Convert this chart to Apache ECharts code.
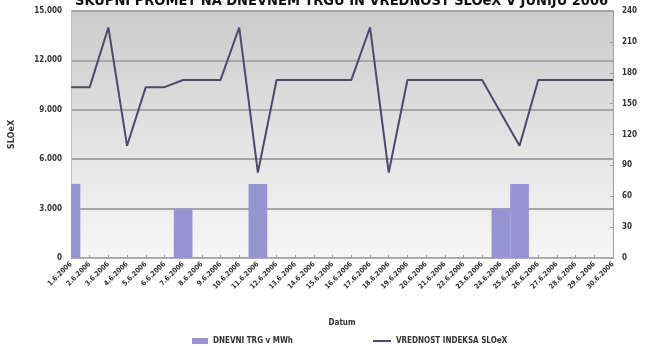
<!DOCTYPE html>
<html>
<head>
<meta charset="utf-8">
<script src="https://cdn.jsdelivr.net/npm/echarts@6/dist/echarts.min.js"></script>
<style>
html,body{margin:0;padding:0;background:#fff;}
#c{width:647px;height:346px;}
</style>
</head>
<body>
<div id="c"></div>
<script>
const categories = ['1.6.2006','2.6.2006','3.6.2006','4.6.2006','5.6.2006','6.6.2006','7.6.2006','8.6.2006','9.6.2006','10.6.2006',
  '11.6.2006','12.6.2006','13.6.2006','14.6.2006','15.6.2006','16.6.2006','17.6.2006','18.6.2006','19.6.2006','20.6.2006',
  '21.6.2006','22.6.2006','23.6.2006','24.6.2006','25.6.2006','26.6.2006','27.6.2006','28.6.2006','29.6.2006','30.6.2006'];
const volumeMWh = [4500,0,0,0,0,0,3000,0,0,0,
  4500,0,0,0,0,0,0,0,0,0,
  0,0,0,3000,4500,0,0,0,0,0];
const indexValues = [166,166,224,109,166,166,173,173,173,224,
  83,173,173,173,173,173,224,83,173,173,
  173,173,173,141,109,173,173,173,173,173];
const leftTicks = [0,3000,6000,9000,12000,15000];
const rightTicks = [0,30,60,90,120,150,180,210,240];

const FONT = "'Liberation Sans Narrow','DejaVu Sans Condensed',sans-serif";
function fmtThousands(v){
  if (v === 0) return '0';
  const s = String(Math.round(v));
  return s.replace(/\B(?=(\d{3})+(?!\d))/g, '.');
}
const barData = volumeMWh.map(function(v,i){return [i,v];});
function renderBar(params, api){
  const i = api.value(0), v = api.value(1);
  if (!v) return null;
  const p0 = api.coord([i,0]);
  const p1 = api.coord([i,v]);
  const w = Math.abs(api.coord([1,0])[0] - api.coord([0,0])[0]);
  const cs = params.coordSys;
  const shape = echarts.graphic.clipRectByRect(
    {x:p0[0]-w/2, y:p1[1], width:w, height:p0[1]-p1[1]},
    {x:cs.x, y:cs.y, width:cs.width, height:cs.height});
  if (!shape) return null;
  return {type:'rect', shape:shape, style:{fill:'#9893d2'}};
}
const chart = echarts.init(document.getElementById('c'), null, {renderer:'canvas'});
chart.setOption({
  animation:false,
  backgroundColor:'#ffffff',
  title:{
    text:'SKUPNI PROMET NA DNEVNEM TRGU IN VREDNOST SLOeX V JUNIJU 2006',
    left:70, top:-11,
    textStyle:{fontFamily:FONT,fontSize:14.5,fontWeight:'bold',color:'#111'}
  },
  legend:[{
    data:[{name:'DNEVNI TRG v MWh',icon:'rect'}],
    left:187, top:332, itemWidth:16, itemHeight:6, itemGap:4,
    textStyle:{fontFamily:FONT,fontSize:8,fontWeight:'bold',color:'#333'}
  },{
    data:[{name:'VREDNOST INDEKSA SLOeX',icon:'rect'}],
    left:368, top:332, itemWidth:18, itemHeight:2,
    textStyle:{fontFamily:FONT,fontSize:8,fontWeight:'bold',color:'#333'}
  }],
  grid:{left:71,right:34,top:11,bottom:88,show:true,borderWidth:0,containLabel:false,outerBoundsMode:'none',
    backgroundColor:new echarts.graphic.LinearGradient(0,0,0,1,[
      {offset:0,color:'#cbcbcb'},{offset:0.5,color:'#e2e2e2'},{offset:1,color:'#f6f6f6'}])},
  xAxis:{
    type:'category', data:categories, boundaryGap:false,
    name:'Datum', nameLocation:'middle', nameGap:61,
    nameTextStyle:{fontFamily:FONT,fontSize:8,fontWeight:'bold',color:'#333'},
    axisLine:{show:true,lineStyle:{color:'#b0b0b0',width:1}},
    axisTick:{show:true,inside:true,length:3,lineStyle:{color:'#999'}},
    axisLabel:{rotate:45,interval:0,fontFamily:FONT,fontSize:7,fontWeight:'bold',color:'#333',margin:5},
    splitLine:{show:false}
  },
  yAxis:[{
    type:'value', min:0, max:15000, interval:3000,
    name:'SLOeX', nameLocation:'middle', nameRotate:90, nameGap:55,
    nameTextStyle:{fontFamily:FONT,fontSize:9,fontWeight:'bold',color:'#333'},
    axisLine:{show:true,lineStyle:{color:'#bdbdbd'}},
    axisTick:{show:false},
    axisLabel:{fontFamily:FONT,fontSize:8,fontWeight:'bold',color:'#333',margin:9,
      formatter:function(v){return leftTicks.indexOf(v)>=0?fmtThousands(v):'';}},
    splitLine:{show:true,lineStyle:{color:'#a6a6a6',width:2}}
  },{
    type:'value', min:0, max:240, interval:30, position:'right',
    name:'Indeks SLOeX', nameLocation:'middle', nameRotate:-90, nameGap:26,
    nameTextStyle:{fontFamily:FONT,fontSize:7,color:'#bbbbbb'},
    axisLine:{show:true,lineStyle:{color:'#a0a0a0',width:1}},
    axisTick:{show:true,inside:true,length:3,lineStyle:{color:'#999'}},
    axisLabel:{fontFamily:FONT,fontSize:8,fontWeight:'bold',color:'#333',margin:9,
      formatter:function(v){return rightTicks.indexOf(v)>=0?String(v):'';}},
    splitLine:{show:false}
  }],
  series:[{
    name:'DNEVNI TRG v MWh', type:'custom', yAxisIndex:0,
    data:barData, encode:{x:0,y:1}, renderItem:renderBar,
    itemStyle:{color:'#9893d2'}
  },{
    name:'VREDNOST INDEKSA SLOeX', type:'line', yAxisIndex:1,
    data:indexValues, symbol:'none',
    lineStyle:{color:'#4c4a68',width:2},
    itemStyle:{color:'#4c4a68'}
  }]
});
</script>
</body>
</html>
